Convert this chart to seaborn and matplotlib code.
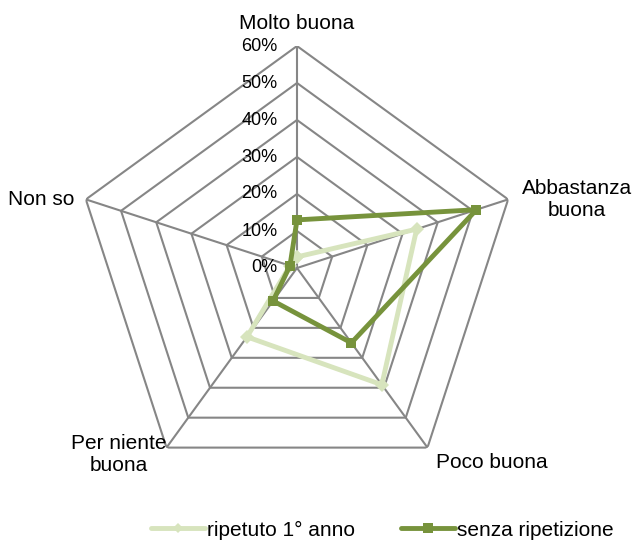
import numpy as np
import pandas as pd
import matplotlib
matplotlib.use("Agg")
import matplotlib.pyplot as plt
import seaborn as sns
from matplotlib.lines import Line2D

categories = ["Molto buona", "Abbastanza\nbuona", "Poco buona", "Per niente\nbuona", "Non so"]
ripetuto = [3, 34, 39, 23, 2]
senza = [13, 51, 25, 11, 2]
tick_values = [0, 10, 20, 30, 40, 50, 60]
tick_labels = ["0%", "10%", "20%", "30%", "40%", "50%", "60%"]
series_names = ["ripetuto 1° anno", "senza ripetizione"]

sns.set_style("white")
plt.rcParams["font.family"] = ["Liberation Sans", "DejaVu Sans"]
plt.rcParams["text.color"] = "black"

light = "#D7E4BD"
dark = "#77933C"
grid_c = "#868686"

fig = plt.figure(figsize=(6.32, 5.46), dpi=100)
ax = fig.add_axes([75/632, 56/546, 444/632, 444/546], projection="polar")
ax.set_theta_zero_location("N")
ax.set_theta_direction(-1)
n = len(categories)
angles = np.arange(n) * 2 * np.pi / n
ax.set_ylim(0, 60)
ax.grid(False)
ax.spines["polar"].set_visible(False)

closed = np.append(angles, angles[0])
for v in tick_values[1:]:
    ax.plot(closed, [v] * (n + 1), color=grid_c, lw=1.5, zorder=1)
for a in angles:
    ax.plot([a, a], [0, 60], color=grid_c, lw=1.5, zorder=1)

df = pd.DataFrame({
    "theta": np.concatenate([closed, closed]),
    "r": ripetuto + [ripetuto[0]] + senza + [senza[0]],
    "serie": [series_names[0]] * (n + 1) + [series_names[1]] * (n + 1),
})
sns.lineplot(data=df, x="theta", y="r", hue="serie", style="serie",
             palette=[light, dark], markers=["D", "s"], dashes=False,
             sort=False, estimator=None, lw=3.5, markersize=7,
             markeredgewidth=0, ax=ax, legend=False, zorder=3)
ax.set_xlabel("")
ax.set_ylabel("")
ax.set_ylim(0, 60)
ax.set_xticks([])
ax.set_yticks([])
ax.grid(False)

for v, lab in zip(tick_values, tick_labels):
    ax.annotate(lab, xy=(0, v), xytext=(-14, 0), textcoords="offset points",
                ha="right", va="center", fontsize=13, annotation_clip=False)

label_cfg = [
    ((0, 16), "center", "center"),
    ((10, 0), "left", "center"),
    ((6, -4), "left", "top"),
    ((0, -5), "right", "center"),
    ((-8, 0), "right", "center"),
]
for a, lab, (off, ha, va) in zip(angles, categories, label_cfg):
    ax.annotate(lab, xy=(a, 60), xytext=off, textcoords="offset points",
                ha=ha, va=va, fontsize=15, annotation_clip=False,
                multialignment="center", linespacing=1.15)

handles = [Line2D([], [], color=light, lw=3.5, marker="D", markersize=5, markeredgewidth=0),
           Line2D([], [], color=dark, lw=3.5, marker="s", markersize=7, markeredgewidth=0)]
fig.legend(handles, series_names, loc="center", bbox_to_anchor=(0.605, 16/546),
           ncol=2, frameon=False, fontsize=15, handlelength=2.6, handletextpad=0.1,
           columnspacing=2.2)

fig.savefig("out.png", dpi=100)
